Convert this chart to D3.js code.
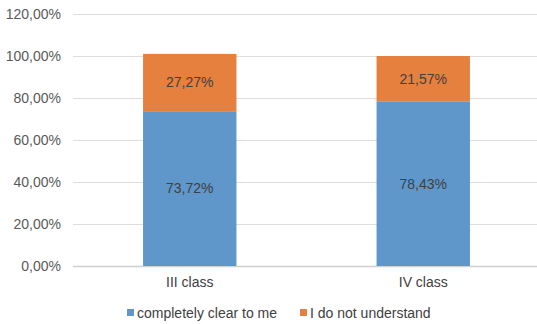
<!DOCTYPE html>
<html>
<head>
<meta charset="utf-8">
<script src="https://cdn.jsdelivr.net/npm/d3@7"></script>
<style>
  html, body { margin: 0; padding: 0; background: #fff; }
  svg { display: block; font-family: "Liberation Sans", Arial, sans-serif; }
</style>
</head>
<body>
<svg id="chart" width="537" height="324"></svg>
<script>
// Stacked percentage bars per class
const categories = ["III class", "IV class"];
const seriesNames = ["completely clear to me", "I do not understand"];
const clearValues = [73.72, 78.43];
const notUnderstandValues = [27.27, 21.57];
const yTicks = [0, 20, 40, 60, 80, 100, 120];
const colors = ["#5f97ca", "#e5803f"];

const svg = d3.select("#chart");
const margin = { left: 73, right: -3, top: 14, bottom: 58 };
const W = 537, H = 324;
const x0 = margin.left, x1 = W - margin.right;
const yTop = margin.top, yBottom = H - margin.bottom;
const fontSize = 14;

const x = d3.scaleBand().domain(categories).range([x0, x1])
  .paddingInner(0.6).paddingOuter(0.3);
const y = d3.scaleLinear().domain([0, 120]).range([yBottom, yTop]);

const fmt = v => d3.format(".2f")(v).replace(".", ",") + "%";

// gridlines
svg.append("g").selectAll("line").data(yTicks).join("line")
  .attr("x1", x0).attr("x2", W)
  .attr("y1", d => Math.round(y(d)) + 0.5).attr("y2", d => Math.round(y(d)) + 0.5)
  .attr("stroke", d => d === 0 ? "#d0d0d0" : "#dedede")
  .attr("stroke-width", d => d === 0 ? 1.5 : 1);

// y axis labels
const yAxis = d3.axisLeft(y).tickValues(yTicks).tickFormat(fmt).tickSize(0).tickPadding(12);
const ga = svg.append("g").attr("transform", `translate(${x0},0)`).call(yAxis);
ga.select(".domain").remove();
ga.selectAll("text").attr("font-size", fontSize).attr("fill", "#595959")
  .attr("font-family", "Liberation Sans, Arial, sans-serif");

// stacked data
const rows = categories.map((c, i) => ({ cat: c, a: clearValues[i], b: notUnderstandValues[i] }));
const stack = d3.stack().keys(["a", "b"]);
const layers = stack(rows);

const gBars = svg.append("g");
layers.forEach((layer, li) => {
  gBars.selectAll(null).data(layer).join("rect")
    .attr("x", d => x(d.data.cat))
    .attr("width", x.bandwidth())
    .attr("y", d => y(d[1]))
    .attr("height", d => y(d[0]) - y(d[1]))
    .attr("fill", colors[li]);
  gBars.selectAll(null).data(layer).join("text")
    .attr("x", d => x(d.data.cat) + x.bandwidth() / 2)
    .attr("y", d => (y(d[0]) + y(d[1])) / 2)
    .attr("dy", "0.35em")
    .attr("text-anchor", "middle")
    .attr("font-size", fontSize)
    .attr("fill", "#404040")
    .text(d => fmt(d[1] - d[0]));
});

// category labels
const xAxis = d3.axisBottom(x).tickSize(0).tickPadding(11);
const gx = svg.append("g").attr("transform", `translate(0,${yBottom})`).call(xAxis);
gx.select(".domain").remove();
gx.selectAll("text").attr("font-size", fontSize).attr("fill", "#404040")
  .attr("font-family", "Liberation Sans, Arial, sans-serif");

// legend
const legendY = 313;
const legendX = [127, 300];
const lg = svg.append("g");
seriesNames.forEach((name, i) => {
  lg.append("rect").attr("x", legendX[i]).attr("y", legendY - 4).attr("width", 7).attr("height", 7)
    .attr("fill", colors[i]);
  lg.append("text").attr("x", legendX[i] + 10).attr("y", legendY).attr("dy", "0.35em")
    .attr("font-size", fontSize).attr("fill", "#404040").text(name);
});
</script>
</body>
</html>
